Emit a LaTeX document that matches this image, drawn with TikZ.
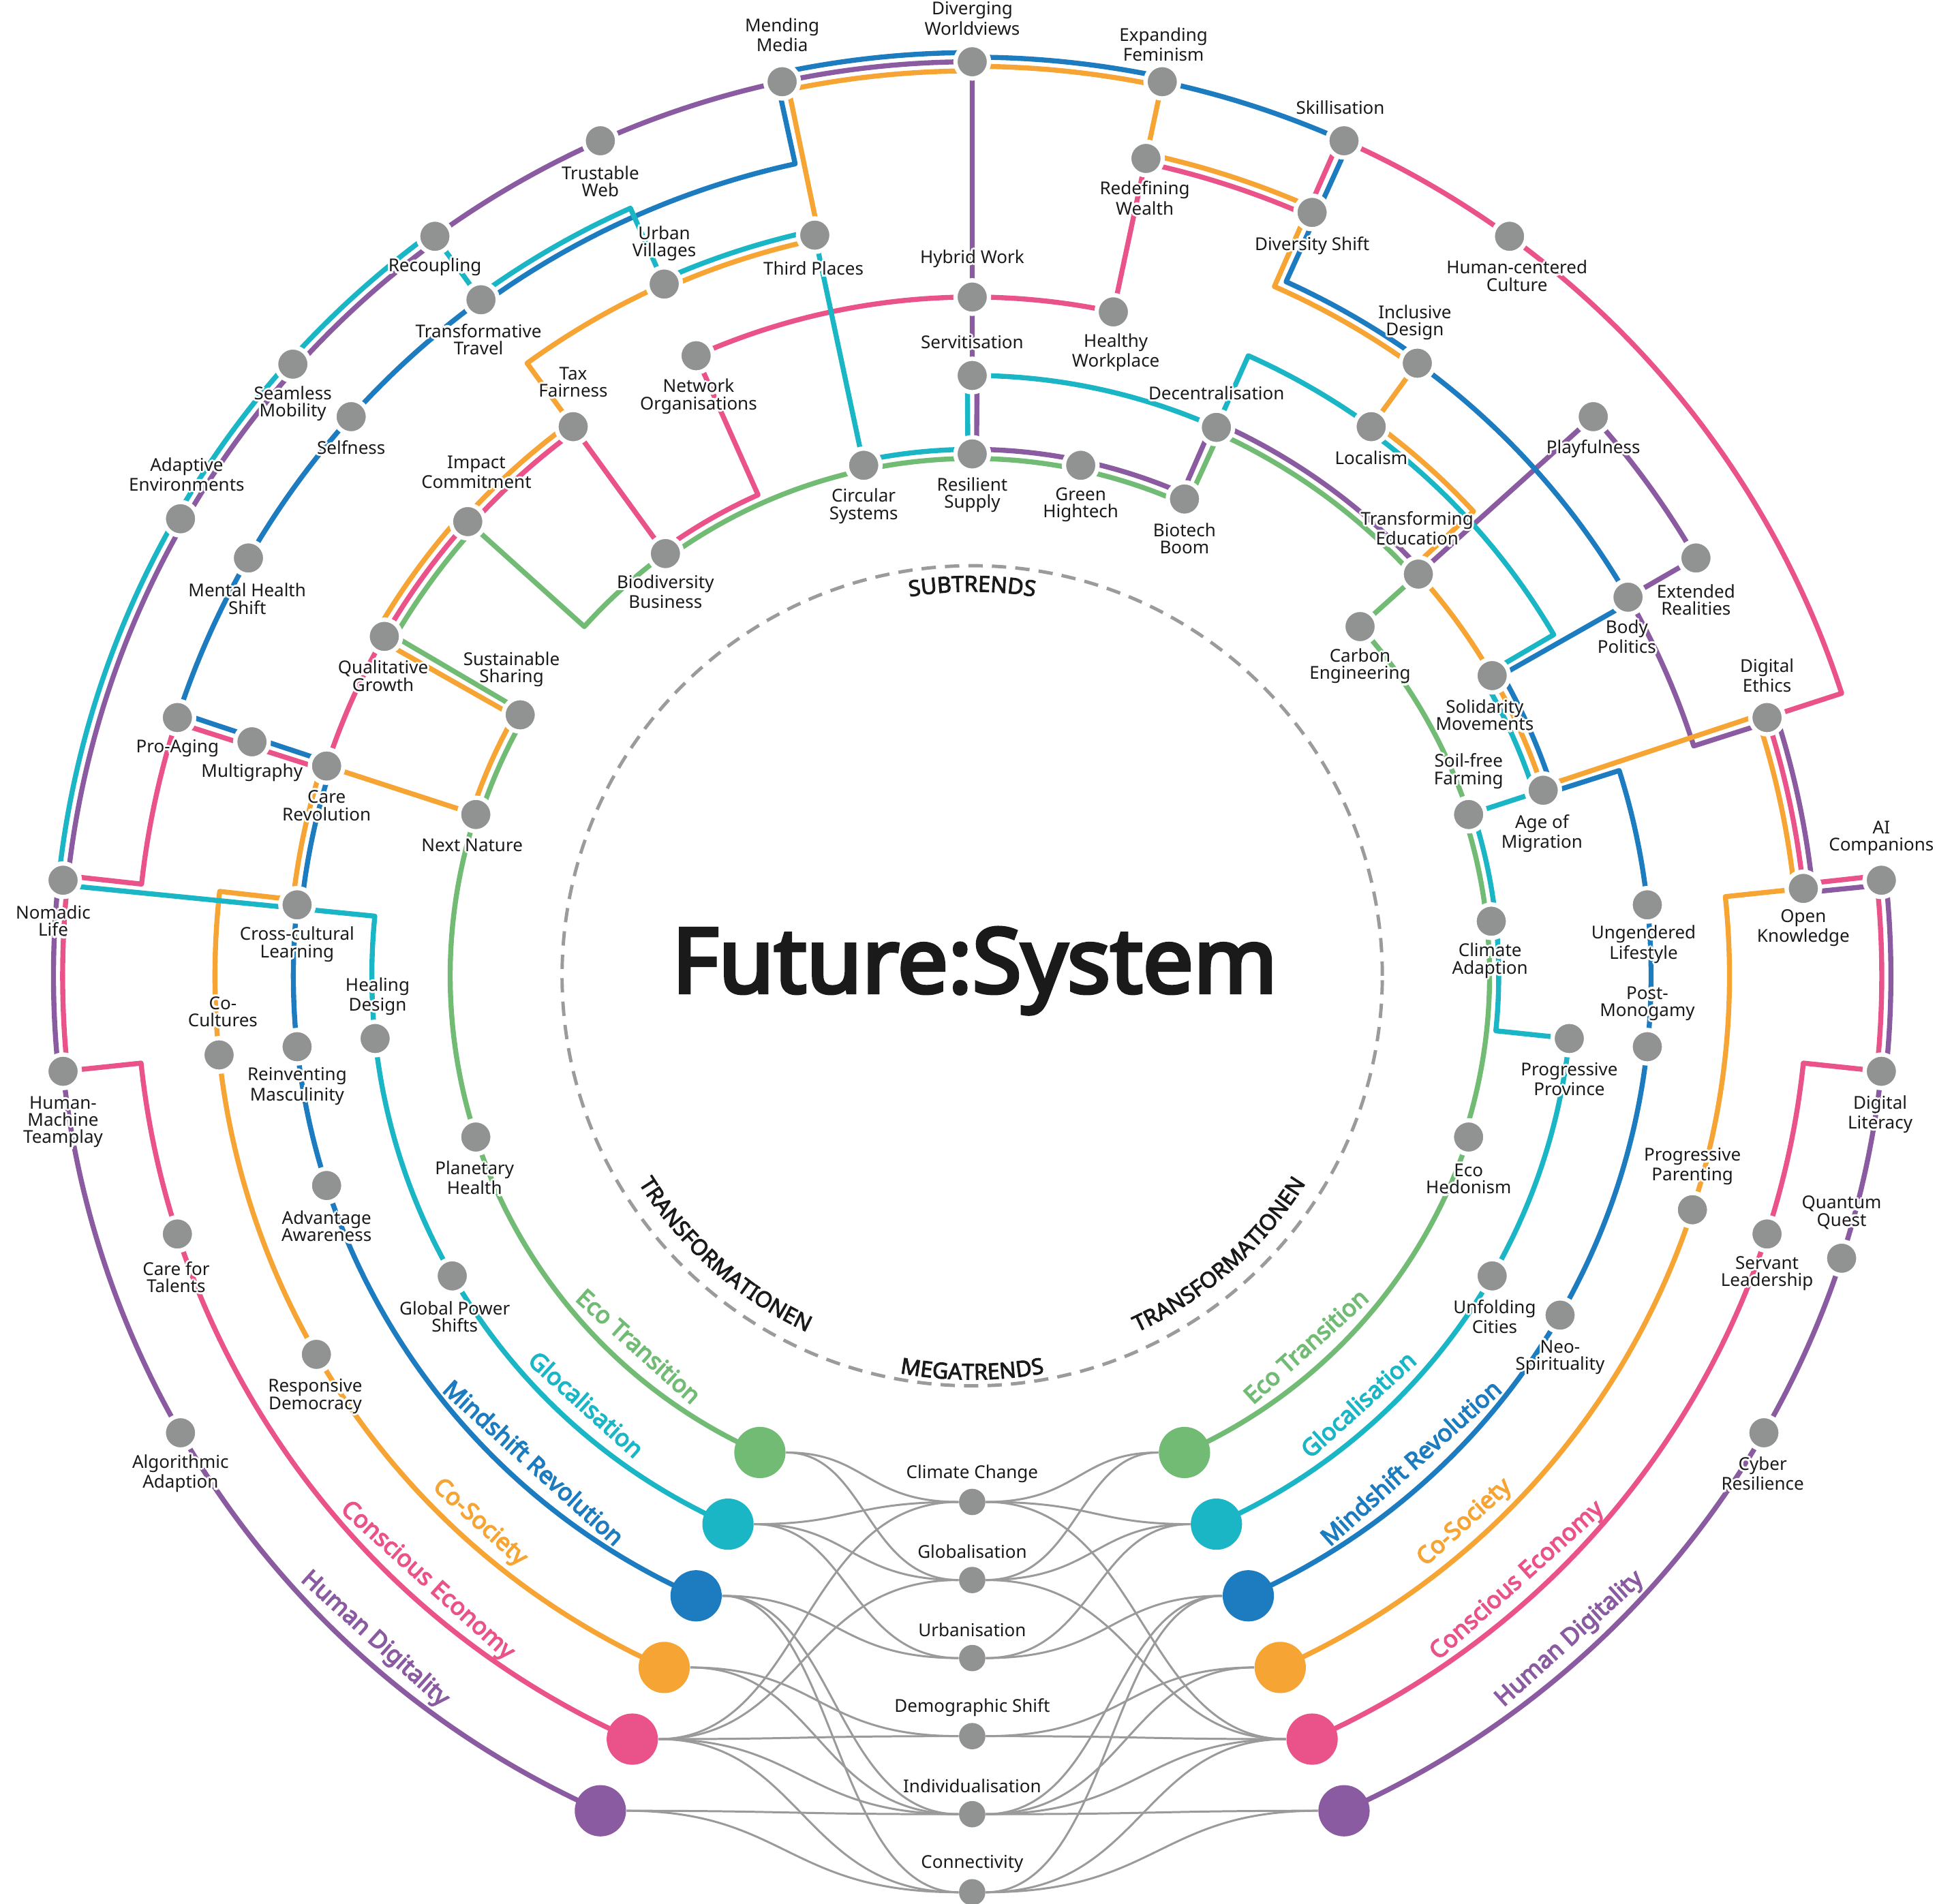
\documentclass[tikz,border=0pt]{standalone}
\usepackage{fontspec}
\setmainfont{Noto Sans}[AutoFakeBold=2.5]
\newfontfamily\heavyfont{Noto Sans}[FakeBold=4]
\newfontfamily\semifont{Noto Sans}[FakeBold=2.8]
\usepackage{tikz}
\usetikzlibrary{decorations.text}
\tikzset{>=stealth}

\definecolor{ecogreen}{HTML}{72BB74}
\definecolor{glocyan}{HTML}{1BB6C6}
\definecolor{mindblue}{HTML}{1D7CC0}
\definecolor{cosorange}{HTML}{F6A433}
\definecolor{conpink}{HTML}{EA538A}
\definecolor{humpurple}{HTML}{8A5BA0}
\definecolor{nodegray}{HTML}{919292}
\definecolor{linkgray}{HTML}{9A9A9A}
\definecolor{inkdark}{HTML}{1A1A1A}
\definecolor{dashgray}{HTML}{9B9B9B}

\newcommand\lblfont{\fontsize{7.4}{7.2}\selectfont}
\newcommand\ringfont{\semifont\fontsize{9.2}{11}\selectfont\color{inkdark}}
\newcommand\lbl[4]{%
  \foreach \hh in {0,45,...,315}
    \node[lab,text=white] at ([shift={(#2,#3)},shift={(\hh:0.9pt)}]#1) {#4};
  \node[lab] (#1-l) at ([shift={(#2,#3)}]#1) {#4};}

\tikzset{
  route/.style={line width=2.1pt, line join=round, line cap=round},
  ecoline/.style={route, draw=ecogreen},
  gloline/.style={route, draw=glocyan},
  mindline/.style={route, draw=mindblue},
  cosline/.style={route, draw=cosorange},
  conline/.style={route, draw=conpink},
  humline/.style={route, draw=humpurple},
  sub/.style={circle, fill=nodegray, draw=white, line width=1.8pt, minimum size=14pt, inner sep=0pt},
  mtnode/.style={circle, fill=nodegray, minimum size=11pt, inner sep=0pt},
  big/.style={circle, fill=#1, minimum size=21.4pt, inner sep=0pt},
  link/.style={draw=linkgray, line width=0.85pt},
  lab/.style={font=\lblfont, align=center, text=inkdark, inner sep=0pt},
  tlab/.style={font=\heavyfont\fontsize{10}{12}\selectfont, anchor=base, inner sep=0pt},
}

\begin{document}
\begin{tikzpicture}[x=0.018125cm, y=0.018125cm]
  \useasboundingbox (-787,-751) rectangle (781,790);

  \draw[dashgray, line width=1.4pt, dash pattern=on 6pt off 3.8pt] (0,0) circle[radius=332];
  \path[decorate, decoration={text along path, text align=center, text={|\ringfont|SUBTRENDS}}] (110:311) arc(110:70:311);
  \path[decorate, decoration={text along path, text align=center, text={|\ringfont|MEGATRENDS}}] (250:327) arc(250:290:327);
  \path[decorate, decoration={text along path, text align=center, text={|\ringfont|TRANSFORMATIONEN}}] (205:318) arc(205:252:318);
  \path[decorate, decoration={text along path, text align=center, text={|\ringfont|TRANSFORMATIONEN}}] (-72:318) arc(-72:-25:318);
  \node[font=\heavyfont\fontsize{37.5}{42}\selectfont, text=inkdark] (title) at (2,4) {Future:System};

  \draw[humline] (246:740) arc(246:186:740) -- (186:743.7) arc(186:174:743.7)
    -- (174:736.3) arc(174:126:736.3) -- (126:740) arc(126:90:740)
    -- (90:486) -- (89.53:486) -- (89.53:426.2) arc(89.53:66.47:426.2)
    -- (66.47:489.7) arc(66.47:42:489.7) -- (42:676.5) arc(42:30:676.5)
    -- (30:613) arc(30:17.67:613) -- (17.67:684) arc(17.67:5.7:684)
    -- (5.7:743.7) arc(5.7:-6:743.7) -- (-6:740) arc(-6:-66:740);
  \draw[conline] (246:676.5) arc(246:186:676.5) -- (186:736.3) arc(186:173.7:736.3)
    -- (173.7:676.5) arc(173.7:162.35:676.5) -- (162.35:549.5) arc(162.35:138:549.5)
    -- (138:545.8) arc(138:126:545.8) -- (126:426.2) arc(126:114:426.2)
    -- (114:549.5) arc(114:78:549.5) -- (78:672.8) arc(78:66.3:672.8)
    -- (66.3:740) arc(66.3:18:740) -- (18:676.5) arc(18:6.3:676.5)
    -- (6.3:736.3) arc(6.3:-6:736.3) -- (-6:676.5) arc(-6:-66:676.5);
  \draw[cosline] (246:613) arc(246:173.6:613) -- (173.6:553.2) arc(173.6:162:553.2)
    -- (162:426.2) arc(162:150.44:426.2) -- (150.44:556.9) arc(150.44:138:556.9)
    -- (138:553.2) arc(138:126:553.2) -- (126:613) arc(126:114:613)
    -- (114:609.3) arc(114:101.7:609.3) -- (101.7:732.6) arc(101.7:90:732.6)
    -- (90:736.3) arc(90:78:736.3) -- (78:680.2) arc(78:66.33:680.2)
    -- (66.33:609.3) arc(66.33:54:609.3) -- (54:553.2) arc(54:42.82:553.2)
    -- (42.82:486) arc(42.82:18.33:486) -- (18.33:669.1) arc(18.33:6:669.1)
    -- (6:613) arc(6:-66:613);
  \draw[mindline] (246:549.5) arc(246:174:549.5) -- (174:545.8) arc(174:161.65:545.8)
    -- (161.65:676.5) arc(161.65:126:676.5) -- (126:672.8) arc(126:102.3:672.8)
    -- (102.3:747.4) arc(102.3:90:747.4) -- (90:743.7) arc(90:78:743.7)
    -- (78:740) arc(78:65.67:740) -- (65.67:616.7) arc(65.67:54:616.7)
    -- (54:613) arc(54:29.6:613) -- (29.6:493.4) arc(29.6:17.6:493.4)
    -- (17.6:549.5) arc(17.6:-66:549.5);
  \draw[gloline] (246:486) arc(246:174.3:486) -- (174.3:743.7) arc(174.3:126:743.7)
    -- (126:680.2) arc(126:114:680.2) -- (114:616.7) arc(114:102:616.7)
    -- (102:426.2) arc(102:90.47:426.2) -- (90.47:486) arc(90.47:66:486)
    -- (66:549.5) arc(66:54:549.5) -- (54:545.8) arc(54:30.4:545.8)
    -- (30.4:478.6) arc(30.4:18:478.6) -- (18:426.2) arc(18:-6:426.2)
    -- (-6:486) arc(-6:-66:486);
  \draw[ecoline] (246:422.5) arc(246:162:422.5) -- (162:418.8) arc(162:149.56:418.8)
    -- (149.56:542.1) arc(149.56:138:542.1) -- (138:422.5) arc(138:126:422.5)
    -- (126:418.8) arc(126:65.53:418.8) -- (65.53:482.3) arc(65.53:42:482.3)
    -- (42:422.5) arc(42:18:422.5) -- (18:418.8) arc(18:-18:418.8)
    -- (-18:422.5) arc(-18:-66:422.5);

  \foreach \n/\r/\c/\txt in {Eco/410.5/ecogreen/Eco Transition, Glo/474/glocyan/Glocalisation,
      Min/537.5/mindblue/Mindshift Revolution, Cos/601/cosorange/Co-Society,
      Con/664.5/conpink/Conscious Economy, Hum/728/humpurple/Human Digitality} {
    \node[tlab, text=\c, rotate=318] (t\n L) at (228:\r) {\txt};
    \node[tlab, text=\c, rotate=42] (t\n R) at (-48:\r) {\txt};
  }

  \foreach \n/\a in {dw/90, mm/102, ef/78, skill/66, tw/114, rec/126, seam/138, ae/150,
      nl/174, hmt/186, alg/210, hcc/54, aic/6, dl/-6, qq/-18, cyr/-30}
    \node[sub] (\n) at (\a:740) {};
  \foreach \n/\a in {rw/78, ds/66, tt/126, self/138, mhs/150, pa/162, cft/198, play/42,
      er/30, de/18, ok/6, sl/-18}
    \node[sub] (\n) at (\a:676.5) {};
  \foreach \n/\a in {tp/102, uv/114, multi/162, coc/186, rd/210, id/54, bp/30, ppar/-18}
    \node[sub] (\n) at (\a:613) {};
  \foreach \n/\a in {hw/90, hew/78, no/114, tf/126, ic/138, qg/150, crev/162, ccl/174,
      rm/186, adv/198, loc/54, ul/6, pm/-6, neo/-30}
    \node[sub] (\n) at (\a:549.5) {};
  \foreach \n/\a in {serv/90, dec/66, te/42, solm/30, aom/18, pprov/-6, hd/186, gps/210, uc/-30}
    \node[sub] (\n) at (\a:486) {};
  \foreach \n/\a in {rs/90, cs/102, gh/78, bboom/66, bbus/126, ss/150, nn/162, ph/198,
      ce/42, sff/18, ca/6, eh/-18}
    \node[sub] (\n) at (\a:422.5) {};

  \foreach \n/\r/\c in {Eco/422.5/ecogreen, Glo/486/glocyan, Min/549.5/mindblue,
      Cos/613/cosorange, Con/676.5/conpink, Hum/740/humpurple} {
    \node[big=\c] (l\n) at (246:\r) {};
    \node[big=\c] (r\n) at (-66:\r) {};
  }
  \foreach \n/\y in {cc/-426, glob/-489.2, urb/-552.4, demo/-615.6, indiv/-678.8, conn/-742}
    \node[mtnode] (\n) at (0,\y) {};

  \foreach \src/\dst/\hnd in {lEco/cc/86, lEco/glob/86, lGlo/cc/99, lGlo/glob/99, lGlo/urb/99,
      lMin/urb/112, lMin/indiv/112, lMin/conn/112, lCos/demo/125, lCos/indiv/125,
      lCon/cc/138, lCon/glob/138, lCon/demo/138, lCon/indiv/138, lCon/conn/138,
      lHum/indiv/150, lHum/conn/150,
      cc/rEco/86, glob/rEco/86, cc/rGlo/99, glob/rGlo/99, urb/rGlo/99,
      urb/rMin/112, indiv/rMin/112, conn/rMin/112, demo/rCos/125, indiv/rCos/125,
      cc/rCon/138, glob/rCon/138, demo/rCon/138, indiv/rCon/138, conn/rCon/138,
      indiv/rHum/150, conn/rHum/150}
    \draw[link] (\src) .. controls +(\hnd,0) and +(-\hnd,0) .. (\dst);

  \lbl{dw}{0}{35}{Diverging\\Worldviews}
  \lbl{mm}{0}{38}{Mending\\Media}
  \lbl{ef}{1}{30}{Expanding\\Feminism}
  \lbl{skill}{-3}{27}{Skillisation}
  \lbl{tw}{0}{-33}{Trustable\\Web}
  \lbl{rec}{0}{-25}{Recoupling}
  \lbl{seam}{0}{-32}{Seamless\\Mobility}
  \lbl{ae}{5}{36}{Adaptive\\Environments}
  \lbl{nl}{-8}{-33}{Nomadic\\Life}
  \lbl{hmt}{0}{-41}{Human-\\Machine\\Teamplay}
  \lbl{alg}{0}{-33}{Algorithmic\\Adaption}
  \lbl{hcc}{6}{-32}{Human-centered\\Culture}
  \lbl{aic}{0}{34}{AI\\Companions}
  \lbl{dl}{-1}{-35}{Digital\\Literacy}
  \lbl{qq}{0}{37}{Quantum\\Quest}
  \lbl{cyr}{-1}{-33}{Cyber\\Resilience}
  \lbl{rw}{-1}{-32}{Redefining\\Wealth}
  \lbl{ds}{0}{-27}{Diversity Shift}
  \lbl{tt}{-2}{-32}{Transformative\\Travel}
  \lbl{self}{0}{-25}{Selfness}
  \lbl{mhs}{-1}{-33}{Mental Health\\Shift}
  \lbl{pa}{0}{-25}{Pro-Aging}
  \lbl{cft}{-1}{-35}{Care for\\Talents}
  \lbl{play}{0}{-26}{Playfulness}
  \lbl{er}{0}{-34}{Extended\\Realities}
  \lbl{de}{0}{34}{Digital\\Ethics}
  \lbl{ok}{0}{-32}{Open\\Knowledge}
  \lbl{sl}{0}{-32}{Servant\\Leadership}
  \lbl{tp}{-1}{-27}{Third Places}
  \lbl{uv}{0}{33}{Urban\\Villages}
  \lbl{multi}{0}{-25}{Multigraphy}
  \lbl{coc}{3}{35}{Co-\\Cultures}
  \lbl{rd}{-1}{-34}{Responsive\\Democracy}
  \lbl{id}{-2}{33}{Inclusive\\Design}
  \lbl{bp}{-1}{-32}{Body\\Politics}
  \lbl{ppar}{0}{35}{Progressive\\Parenting}
  \lbl{hw}{0}{31}{Hybrid Work}
  \lbl{hew}{2}{-33}{Healthy\\Workplace}
  \lbl{no}{2}{-33}{Network\\Organisations}
  \lbl{tf}{0}{36}{Tax\\Fairness}
  \lbl{ic}{7}{40}{Impact\\Commitment}
  \lbl{qg}{-1}{-32}{Qualitative\\Growth}
  \lbl{crev}{0}{-32}{Care\\Revolution}
  \lbl{ccl}{0}{-32}{Cross-cultural\\Learning}
  \lbl{rm}{0}{-32}{Reinventing\\Masculinity}
  \lbl{adv}{0}{-33}{Advantage\\Awareness}
  \lbl{loc}{0}{-25}{Localism}
  \lbl{ul}{-3}{-32}{Ungendered\\Lifestyle}
  \lbl{pm}{0}{35}{Post-\\Monogamy}
  \lbl{neo}{0}{-34}{Neo-\\Spirituality}
  \lbl{serv}{0}{27}{Servitisation}
  \lbl{dec}{0}{28}{Decentralisation}
  \lbl{te}{-1}{37}{Transforming\\Education}
  \lbl{solm}{-6}{-32}{Solidarity\\Movements}
  \lbl{aom}{-1}{-35}{Age of\\Migration}
  \lbl{pprov}{0}{-33}{Progressive\\Province}
  \lbl{uc}{2}{-33}{Unfolding\\Cities}
  \lbl{hd}{2}{34}{Healing\\Design}
  \lbl{gps}{2}{-33}{Global Power\\Shifts}
  \lbl{rs}{0}{-33}{Resilient\\Supply}
  \lbl{cs}{0}{-33}{Circular\\Systems}
  \lbl{gh}{0}{-32}{Green\\Hightech}
  \lbl{bboom}{0}{-32}{Biotech\\Boom}
  \lbl{bbus}{0}{-31}{Biodiversity\\Business}
  \lbl{ss}{-7}{37}{Sustainable\\Sharing}
  \lbl{nn}{-3}{-25}{Next Nature}
  \lbl{ph}{-1}{-33}{Planetary\\Health}
  \lbl{ce}{0}{-32}{Carbon\\Engineering}
  \lbl{sff}{0}{35}{Soil-free\\Farming}
  \lbl{ca}{-1}{-32}{Climate\\Adaption}
  \lbl{eh}{0}{-34}{Eco\\Hedonism}
  \lbl{cc}{0}{23}{Climate Change}
  \lbl{glob}{0}{23}{Globalisation}
  \lbl{urb}{0}{23}{Urbanisation}
  \lbl{demo}{0}{23}{Demographic Shift}
  \lbl{indiv}{0}{23}{Individualisation}
  \lbl{conn}{0}{23}{Connectivity}
\end{tikzpicture}
\end{document}
